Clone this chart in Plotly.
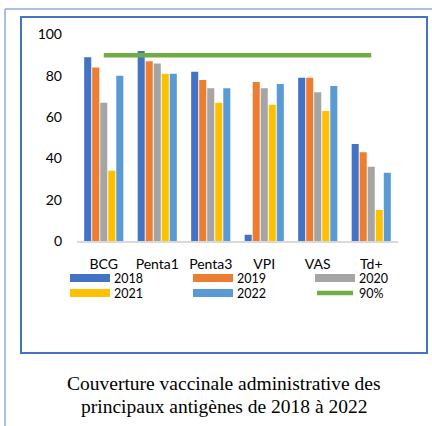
import plotly.graph_objects as go

categories = ["BCG", "Penta1", "Penta3", "VPI", "VAS", "Td+"]
years = ["2018", "2019", "2020", "2021", "2022"]
v2018 = [89, 92, 82, 3, 79, 47]
v2019 = [84, 87, 78, 77, 79, 43]
v2020 = [67, 86, 74, 74, 72, 36]
v2021 = [34, 81, 67, 66, 63, 15]
v2022 = [80, 81, 74, 76, 75, 33]
target = [90, 90, 90, 90, 90, 90]
target_name = "90%"
y_ticks = [0, 20, 40, 60, 80, 100]
caption_lines = ["Couverture vaccinale administrative des", "principaux antigènes de 2018 à 2022"]

series = [v2018, v2019, v2020, v2021, v2022]
colors = ["#4472C4", "#ED7D31", "#A5A5A5", "#FFC000", "#5B9BD5"]
green = "#70AD47"

W, H = 432, 426
def px(x):
    return x / W
def py(y):
    return 1 - y / H

fig = go.Figure()
for name, vals, c in zip(years, series, colors):
    fig.add_trace(go.Bar(x=categories, y=vals, name=name, marker=dict(color=c, line=dict(width=0)),
                         showlegend=False))
fig.add_trace(go.Scatter(x=categories, y=target, name=target_name, mode="lines",
                         line=dict(color=green, width=4.5), showlegend=False))

shapes = []
annotations = []
# frames
shapes.append(dict(type="line", xref="paper", yref="paper", x0=px(5), x1=px(5), y0=py(9), y1=0,
                   line=dict(color="#8FAADC", width=1.5)))
shapes.append(dict(type="line", xref="paper", yref="paper", x0=px(5), x1=1, y0=py(9), y1=py(9),
                   line=dict(color="#8FAADC", width=1.5)))
shapes.append(dict(type="rect", xref="paper", yref="paper", x0=px(21), x1=px(427), y0=py(17), y1=py(353),
                   line=dict(color="#4472C4", width=2)))

# manual legend
legend_items = list(zip(years, colors)) + [(target_name, green)]
col_x = [70, 193, 315]
row_y = [278, 293]
for i, (name, c) in enumerate(legend_items):
    r, k = divmod(i, 3)
    x0 = col_x[k]
    yc = row_y[r]
    if name == target_name:
        shapes.append(dict(type="line", xref="paper", yref="paper", x0=px(x0 + 2), x1=px(x0 + 38),
                           y0=py(yc), y1=py(yc), line=dict(color=green, width=4.5)))
    else:
        shapes.append(dict(type="rect", xref="paper", yref="paper", x0=px(x0), x1=px(x0 + 40),
                           y0=py(yc - 4), y1=py(yc + 4), fillcolor=c, line=dict(width=0)))
    annotations.append(dict(xref="paper", yref="paper", x=px(x0 + 42), y=py(yc), text=name,
                            showarrow=False, xanchor="left", yanchor="middle",
                            font=dict(family="Lato", size=12.5, color="#000")))

for line, yc in zip(caption_lines, [383, 406]):
    annotations.append(dict(xref="paper", yref="paper", x=px(224), y=py(yc), text=line,
                            showarrow=False, xanchor="center", yanchor="middle", align="center",
                            font=dict(family="Liberation Serif", size=19.5, color="#000")))

fig.update_layout(
    width=W, height=H,
    margin=dict(l=0, r=0, t=0, b=0, autoexpand=False),
    paper_bgcolor="white", plot_bgcolor="white",
    barmode="group", bargap=0.25, bargroupgap=0.12,
    shapes=shapes, annotations=annotations,
    font=dict(family="Lato", size=14, color="#000"),
    xaxis=dict(domain=[px(77), px(398)], showline=True, linecolor="#D9D9D9", linewidth=1.5,
               ticks="", showgrid=False, tickfont=dict(size=14), ticklabelstandoff=9,
               automargin=False),
    yaxis=dict(domain=[py(241), py(34.5)], range=[0, 100], tickvals=y_ticks, showgrid=False,
               zeroline=False, showline=False, ticks="", tickfont=dict(size=14),
               ticklabelstandoff=14, automargin=False),
)

fig.write_html(
    "out.html",
    config={"displayModeBar": False},
    post_script="document.body.style.margin='0';document.body.style.padding='0';"
                "document.documentElement.style.overflow='hidden';",
)
